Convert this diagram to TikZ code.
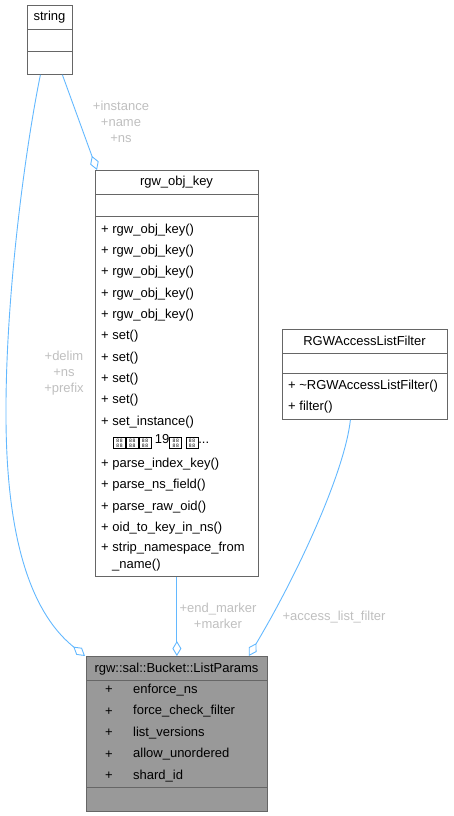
\documentclass[tikz,border=0pt]{standalone}
\usepackage{fontspec}
\setmainfont{Liberation Sans}
\usetikzlibrary{arrows.meta}
\definecolor{edgeblue}{HTML}{63B8FF}
\definecolor{lblgray}{HTML}{BFBFBF}
\definecolor{boxborder}{HTML}{666666}
\definecolor{lpfill}{HTML}{999999}
\newcommand{\tofubox}{\raisebox{-2pt}{\setlength{\fboxsep}{0pt}\setlength{\fboxrule}{0.6pt}\fbox{\parbox[c][11pt][c]{11.5pt}{\centering\fontsize{5}{5}\selectfont 8\,8\\[0.3pt]8\,8}}}}
\tikzset{
  umlbox/.style={draw=boxborder, line width=0.8pt, fill=white, anchor=north west, inner sep=0pt},
  sepline/.style={draw=boxborder, line width=0.8pt},
  mem/.style={anchor=west, inner sep=0pt, font=\fontsize{13}{15}\selectfont},
  ttl/.style={inner sep=0pt, font=\fontsize{13}{15}\selectfont},
  lbl/.style={inner sep=0pt, text=lblgray, align=center, font=\fontsize{13}{16}\selectfont},
  edge/.style={draw=edgeblue, line width=0.9pt},
  agg/.style={{Diamond[open, length=15pt, width=9pt, line width=0.9pt]}-}
}
\begin{document}
\begin{tikzpicture}[x=1pt, y=-1pt]
\useasboundingbox (0,0) rectangle (453,816);
% string
\node[umlbox, minimum width=45pt, minimum height=69pt] (string) at (27,5) {};
\draw[sepline] (27,29) -- (72,29);
\draw[sepline] (27,51) -- (72,51);
\node[ttl] (stringT) at (49.5,17) {string};
% rgw_obj_key
\node[umlbox, minimum width=163pt, minimum height=406pt] (key) at (95,170) {};
\draw[sepline] (95,194) -- (258,194);
\draw[sepline] (95,216) -- (258,216);
\node[ttl] (keyT) at (176.5,182) {rgw\_obj\_key};
\node[mem] (k1) at (101,230) {+ rgw\_obj\_key()};
\node[mem] (k2) at (101,251.3) {+ rgw\_obj\_key()};
\node[mem] (k3) at (101,272.6) {+ rgw\_obj\_key()};
\node[mem] (k4) at (101,293.9) {+ rgw\_obj\_key()};
\node[mem] (k5) at (101,315.2) {+ rgw\_obj\_key()};
\node[mem] (k6) at (101,336.5) {+ set()};
\node[mem] (k7) at (101,357.8) {+ set()};
\node[mem] (k8) at (101,379.1) {+ set()};
\node[mem] (k9) at (101,400.4) {+ set()};
\node[mem] (k10) at (101,421.7) {+ set\_instance()};
\node[mem] (k11) at (113,442) {\tofubox\tofubox\tofubox{} 19\tofubox{} \tofubox...};
\node[mem] (k12) at (101,464.3) {+ parse\_index\_key()};
\node[mem] (k13) at (101,485.6) {+ parse\_ns\_field()};
\node[mem] (k14) at (101,506.9) {+ parse\_raw\_oid()};
\node[mem] (k15) at (101,528.2) {+ oid\_to\_key\_in\_ns()};
\node[mem] (k16) at (101,548) {+ strip\_namespace\_from};
\node[mem] (k17) at (112,565) {\_name()};
% RGWAccessListFilter
\node[umlbox, minimum width=165pt, minimum height=90pt] (filt) at (282,329) {};
\draw[sepline] (282,353) -- (447,353);
\draw[sepline] (282,373) -- (447,373);
\node[ttl] (filtT) at (364.5,341) {RGWAccessListFilter};
\node[mem] (f1) at (288,386) {+ \textasciitilde RGWAccessListFilter()};
\node[mem] (f2) at (288,407) {+ filter()};
% ListParams
\node[umlbox, fill=lpfill, minimum width=181pt, minimum height=155pt] (lp) at (86,656) {};
\draw[sepline] (86,680) -- (267,680);
\draw[sepline] (86,787) -- (267,787);
\node[ttl] (lpT) at (176.5,669) {rgw::sal::Bucket::ListParams};
\foreach \y/\t [count=\i] in {690/enforce\_ns, 711.5/force\_check\_filter, 733/list\_versions, 754.5/allow\_unordered, 776/shard\_id}{
  \node[ttl] (lpp\i) at (109,\y) {+};
  \node[mem] (lpm\i) at (133,\y) {\t};
}
% edges
\draw[edge, agg] ([xshift=-1pt]lp.north west) .. controls (40,620) and (7,560) .. (6,420)
   .. controls (5,300) and (25,150) .. ([xshift=-9.5pt]string.south);
\draw[edge, agg] ([xshift=2pt]key.north west) -- ([xshift=12.5pt]string.south);
\draw[edge, agg] (lp.north) -- (key.south);
\draw[edge, agg] ([xshift=-19pt]lp.north east) .. controls (300,570) and (345,470) .. ([xshift=-14.5pt]filt.south);
% labels
\node[lbl] (l1) at (121,122) {+instance\\+name\\+ns};
\node[lbl] (l2) at (64,373) {+delim\\+ns\\+prefix};
\node[lbl] (l3) at (218,616) {+end\_marker\\+marker};
\node[lbl] (l4) at (334,617) {+access\_list\_filter};
\end{tikzpicture}
\end{document}
